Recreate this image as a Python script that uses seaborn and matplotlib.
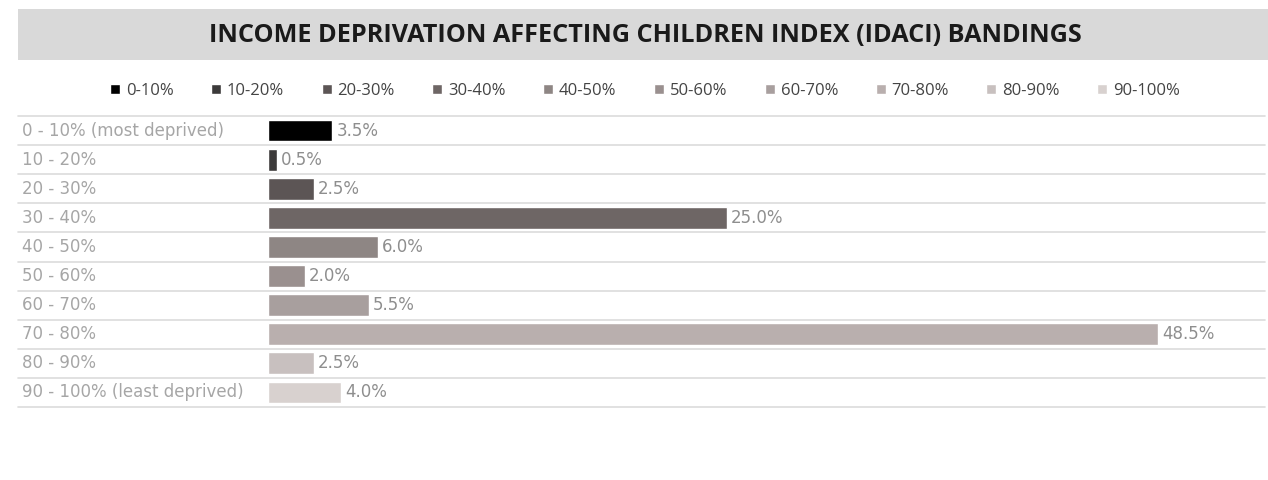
import matplotlib
matplotlib.use("Agg")
import matplotlib.pyplot as plt
import seaborn as sns
import pandas as pd
from matplotlib.patches import Rectangle

categories = ["0 - 10% (most deprived)", "10 - 20%", "20 - 30%", "30 - 40%", "40 - 50%",
              "50 - 60%", "60 - 70%", "70 - 80%", "80 - 90%", "90 - 100% (least deprived)"]
legend_names = ["0-10%", "10-20%", "20-30%", "30-40%", "40-50%",
                "50-60%", "60-70%", "70-80%", "80-90%", "90-100%"]
values = [3.5, 0.5, 2.5, 25.0, 6.0, 2.0, 5.5, 48.5, 2.5, 4.0]
colors = ["#000000", "#3c3a3a", "#5c5555", "#6e6665", "#8e8684",
          "#9a908f", "#a89f9e", "#b9afae", "#c8c0bf", "#d8d1cf"]

sns.set_theme(style="white")
plt.rcParams['font.family'] = ['Open Sans', 'DejaVu Sans']

df = pd.DataFrame({"cat": categories, "val": values, "band": legend_names})

fig = plt.figure(figsize=(12.68, 4.8), dpi=100)
W, H = 1268, 480
ax = fig.add_axes([268 / W, 1 - 407 / H, (1265 - 268) / W, (407 - 116) / H])

sns.barplot(data=df, y="cat", x="val", hue="band", palette=colors, dodge=False,
            order=categories, hue_order=legend_names, width=0.75, ax=ax,
            saturation=1, legend=True)

ax.set_xlim(0, (1265 - 268) / 18.35)
ax.set_ylim(len(categories) - 0.5, -0.5)
ax.set_xlabel("")
ax.set_ylabel("")
ax.set_xticks([])
ax.set_yticks([])
for s in ax.spines.values():
    s.set_visible(False)

# row separators
x0 = -(268 - 18) / (1265 - 268)
ytr = ax.get_yaxis_transform()
for i in range(len(categories) + 1):
    ax.plot([x0, 1], [i - 0.5, i - 0.5], transform=ytr, color="#dcdcdc",
            lw=1.2, clip_on=False, zorder=0)

# category labels
for i, c in enumerate(categories):
    ax.text(x0 + 0.004, i, c, transform=ytr, ha="left", va="center",
            fontsize=12, color="#a6a6a6", family="DejaVu Sans")

# value labels
for i, v in enumerate(values):
    ax.text(v + 0.22, i, f"{v:.1f}%", ha="left", va="center",
            fontsize=12, color="#8e8e8e", family="DejaVu Sans")

# legend
handles, labels = ax.get_legend_handles_labels()
ax.get_legend().remove()
fig.legend(handles, labels, loc="center", bbox_to_anchor=(645 / W, 1 - 91 / H),
           ncol=10, frameon=False, fontsize=12, handlelength=0.6, handleheight=0.6,
           handletextpad=0.35, columnspacing=2.25, labelcolor="#444444")

# title band
fig.patches.append(Rectangle((18 / W, 1 - 60 / H), (1268 - 18) / W, 51 / H,
                             transform=fig.transFigure, facecolor="#d9d9d9",
                             edgecolor="none", zorder=0))
fig.text(645 / W, 1 - 35 / H, "INCOME DEPRIVATION AFFECTING CHILDREN INDEX (IDACI) BANDINGS",
         ha="center", va="center", fontsize=18.2, fontweight="bold", color="#1a1a1a")

fig.savefig("out.png", dpi=100, facecolor="white")
